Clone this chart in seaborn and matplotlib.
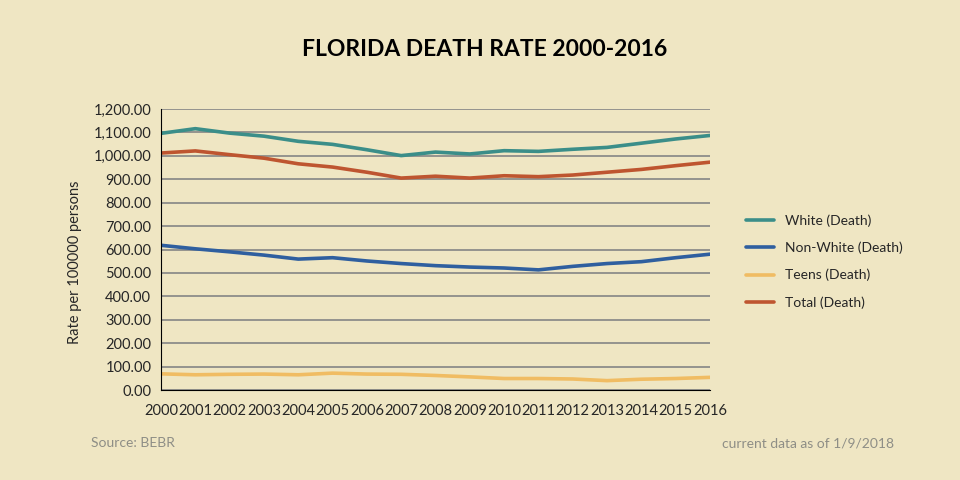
import pandas as pd
import seaborn as sns
import matplotlib.pyplot as plt
from matplotlib.ticker import FuncFormatter

# valeurs
years = list(range(2000, 2017))
white = [1096, 1116, 1097, 1084, 1062, 1049, 1026, 1001, 1016, 1008, 1022, 1019, 1028, 1036, 1054, 1072, 1087]
non_white = [618, 603, 590, 576, 559, 565, 551, 540, 531, 525, 521, 513, 528, 540, 548, 565, 580]
teens = [69, 65, 67, 68, 65, 72, 68, 67, 62, 56, 49, 49, 47, 40, 46, 49, 54]
total = [1012, 1021, 1005, 990, 966, 952, 930, 905, 913, 905, 915, 911, 918, 930, 942, 958, 973]

series_names = ['White (Death)', 'Non-White (Death)', 'Teens (Death)', 'Total (Death)']
colors = ['#3B8E89', '#2F5F9F', '#F0BC63', '#BE5530']

df = pd.DataFrame({'year': years, series_names[0]: white, series_names[1]: non_white,
                   series_names[2]: teens, series_names[3]: total})
long = df.melt(id_vars='year', var_name='serie', value_name='rate')

bg = '#EFE6C3'
sns.set_style('white')
plt.rcParams['font.family'] = ['Lato', 'DejaVu Sans']

fig = plt.figure(figsize=(9.6, 4.8), dpi=100, facecolor=bg)
ax = fig.add_axes([161 / 960, 1 - 390 / 480, 549 / 960, 281 / 480])
ax.set_facecolor(bg)

sns.lineplot(data=long, x='year', y='rate', hue='serie', hue_order=series_names,
             palette=colors, linewidth=2.6, ax=ax)

ax.set_xlim(2000, 2016)
ax.set_ylim(0, 1200)
ax.set_xticks(years)
ax.set_yticks(range(0, 1201, 100))
ax.yaxis.set_major_formatter(FuncFormatter(lambda v, p: f'{v:,.2f}'))
ax.grid(axis='y', color='#858585', linewidth=1.2)
ax.set_axisbelow(True)
for s in ['top', 'right']:
    ax.spines[s].set_visible(False)
ax.spines['left'].set_color('black')
ax.spines['bottom'].set_color('black')
ax.tick_params(axis='both', direction='out', length=4, color='black', labelsize=10.5, pad=3)
ax.tick_params(axis='x', pad=6)
ax.set_xlabel('')
ax.set_ylabel('Rate per 100000 persons', fontsize=10.5)
ax.yaxis.set_label_coords(-0.143, 0.456)

leg = ax.legend(loc='center left', bbox_to_anchor=(1.043, 0.457), frameon=False,
                fontsize=10, handlelength=2.0, handletextpad=0.8, labelspacing=1.05)

fig.text(485 / 960, 1 - 50 / 480, 'FLORIDA DEATH RATE 2000-2016', ha='center', va='center',
         fontsize=16.5, fontweight='bold', color='black')
fig.text(91 / 960, 1 - 443 / 480, 'Source: BEBR', ha='left', va='center', fontsize=10, color='#8E8E86')
fig.text(894 / 960, 1 - 443 / 480, 'current data as of 1/9/2018', ha='right', va='center',
         fontsize=10, color='#8E8E86')

plt.savefig('out.png', dpi=100, facecolor=bg)
